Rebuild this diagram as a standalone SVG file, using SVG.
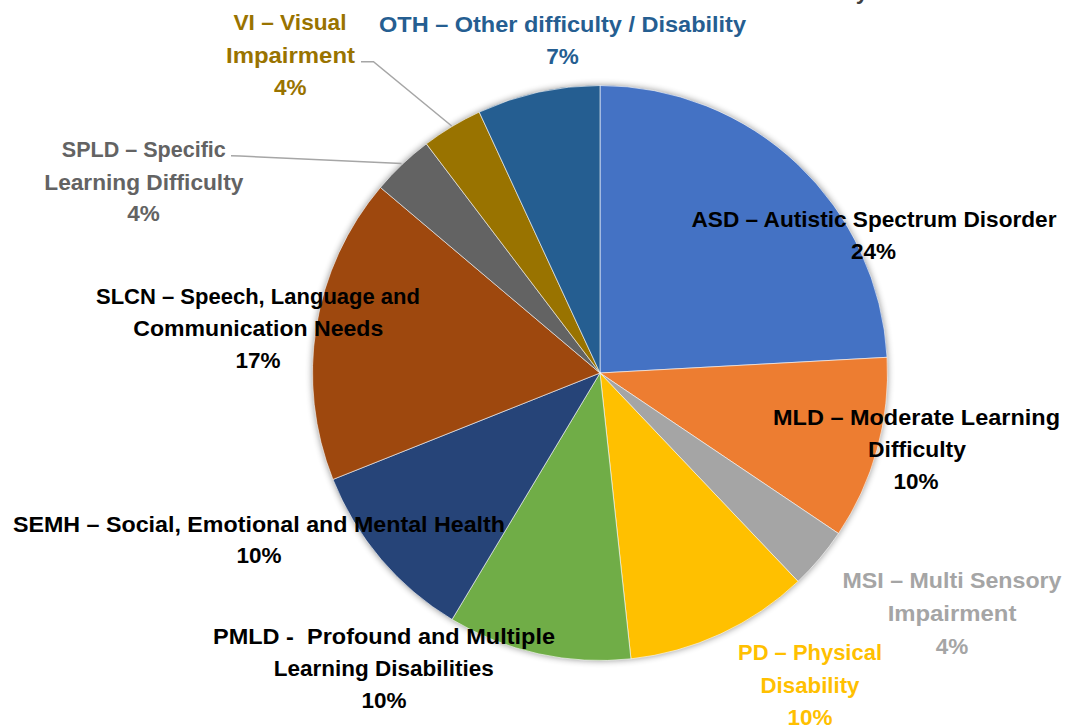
<svg xmlns="http://www.w3.org/2000/svg" width="1067" height="727" viewBox="0 0 1067 727">
<defs>
<style>
.lbl{font-family:"Liberation Sans",Arial,sans-serif;font-weight:bold;font-size:22.5px;text-anchor:middle;white-space:pre}
.blk{fill:#000}
.slice{stroke:#fff;stroke-width:0.6;stroke-linejoin:round}
.leader{fill:none;stroke:#A6A6A6;stroke-width:1.5}
</style>
<filter id="sh" x="-10%" y="-10%" width="120%" height="120%">
<feGaussianBlur in="SourceAlpha" stdDeviation="3.5"/>
<feOffset dx="0" dy="0" result="b"/>
<feComponentTransfer><feFuncA type="linear" slope="0.45"/></feComponentTransfer>
</filter>
</defs>
<rect width="1067" height="727" fill="#fff"/>
<circle cx="600" cy="373" r="287.5" fill="#000" filter="url(#sh)"/>
<g id="pie">
<path id="ASD" class="slice" fill="#4472C4" d="M600,373 L600,85.5 A287.5,287.5 0 0 1 887.07,357.30 Z"/>
<path id="MLD" class="slice" fill="#ED7D31" d="M600,373 L887.07,357.30 A287.5,287.5 0 0 1 838.49,533.53 Z"/>
<path id="MSI" class="slice" fill="#A5A5A5" d="M600,373 L838.49,533.53 A287.5,287.5 0 0 1 798.05,581.40 Z"/>
<path id="PD" class="slice" fill="#FFC000" d="M600,373 L798.05,581.40 A287.5,287.5 0 0 1 630.95,658.83 Z"/>
<path id="PMLD" class="slice" fill="#70AD47" d="M600,373 L630.95,658.83 A287.5,287.5 0 0 1 452.02,619.49 Z"/>
<path id="SEMH" class="slice" fill="#264478" d="M600,373 L452.02,619.49 A287.5,287.5 0 0 1 332.93,479.44 Z"/>
<path id="SLCN" class="slice" fill="#9E480E" d="M600,373 L332.93,479.44 A287.5,287.5 0 0 1 380.41,187.43 Z"/>
<path id="SPLD" class="slice" fill="#636363" d="M600,373 L380.41,187.43 A287.5,287.5 0 0 1 426.36,143.86 Z"/>
<path id="VI" class="slice" fill="#997300" d="M600,373 L426.36,143.86 A287.5,287.5 0 0 1 479.22,112.10 Z"/>
<path id="OTH" class="slice" fill="#255E91" d="M600,373 L479.22,112.10 A287.5,287.5 0 0 1 600,85.5 Z"/>
</g>
<g id="connectors">
<polyline class="leader" points="361,61.7 373.5,61.7 451.7,126"/>
<polyline class="leader" points="231,155.7 240,156 401.5,163.4"/>
</g>
<text class="lbl" x="862" y="-1.5" fill="#404040">y</text>
<g id="label-VI" fill="#997300">
<text class="lbl" x="290" y="30" textLength="113" lengthAdjust="spacingAndGlyphs">VI – Visual</text>
<text class="lbl" x="290.5" y="62.5" textLength="129" lengthAdjust="spacingAndGlyphs">Impairment</text>
<text class="lbl" x="290.3" y="95">4%</text>
</g>
<g id="label-OTH" fill="#255E91">
<text class="lbl" x="562.5" y="32" textLength="367" lengthAdjust="spacingAndGlyphs">OTH – Other difficulty / Disability</text>
<text class="lbl" x="562.5" y="63.5">7%</text>
</g>
<g id="label-SPLD" fill="#636363">
<text class="lbl" x="143.8" y="157" textLength="164" lengthAdjust="spacingAndGlyphs">SPLD – Specific</text>
<text class="lbl" x="143.8" y="189.5" textLength="199" lengthAdjust="spacingAndGlyphs">Learning Difficulty</text>
<text class="lbl" x="143.5" y="221">4%</text>
</g>
<g id="label-SLCN" class="blk">
<text class="lbl" x="258" y="303.5" textLength="324" lengthAdjust="spacingAndGlyphs">SLCN – Speech, Language and</text>
<text class="lbl" x="258.3" y="335.5" textLength="250" lengthAdjust="spacingAndGlyphs">Communication Needs</text>
<text class="lbl" x="258" y="368">17%</text>
</g>
<g id="label-ASD" class="blk">
<text class="lbl" x="874" y="227" textLength="365" lengthAdjust="spacingAndGlyphs">ASD – Autistic Spectrum Disorder</text>
<text class="lbl" x="873.5" y="258.5">24%</text>
</g>
<g id="label-MLD" class="blk">
<text class="lbl" x="916.5" y="424.5" textLength="287" lengthAdjust="spacingAndGlyphs">MLD – Moderate Learning</text>
<text class="lbl" x="917" y="456.5" textLength="98" lengthAdjust="spacingAndGlyphs">Difficulty</text>
<text class="lbl" x="916" y="488.5">10%</text>
</g>
<g id="label-MSI" fill="#A5A5A5">
<text class="lbl" x="952" y="588" textLength="219" lengthAdjust="spacingAndGlyphs">MSI – Multi Sensory</text>
<text class="lbl" x="952" y="621" textLength="128.7" lengthAdjust="spacingAndGlyphs">Impairment</text>
<text class="lbl" x="952" y="653.5">4%</text>
</g>
<g id="label-PD" fill="#FFC000">
<text class="lbl" x="810" y="660" textLength="144" lengthAdjust="spacingAndGlyphs">PD – Physical</text>
<text class="lbl" x="810" y="692.5" textLength="99" lengthAdjust="spacingAndGlyphs">Disability</text>
<text class="lbl" x="810" y="724.5">10%</text>
</g>
<g id="label-PMLD" class="blk">
<text class="lbl" x="384" y="644" textLength="342" lengthAdjust="spacingAndGlyphs" xml:space="preserve">PMLD -  Profound and Multiple</text>
<text class="lbl" x="383.8" y="675.5" textLength="220" lengthAdjust="spacingAndGlyphs">Learning Disabilities</text>
<text class="lbl" x="384" y="707.5">10%</text>
</g>
<g id="label-SEMH" class="blk">
<text class="lbl" x="259" y="531.5" textLength="492" lengthAdjust="spacingAndGlyphs">SEMH – Social, Emotional and Mental Health</text>
<text class="lbl" x="259" y="563">10%</text>
</g>
</svg>
